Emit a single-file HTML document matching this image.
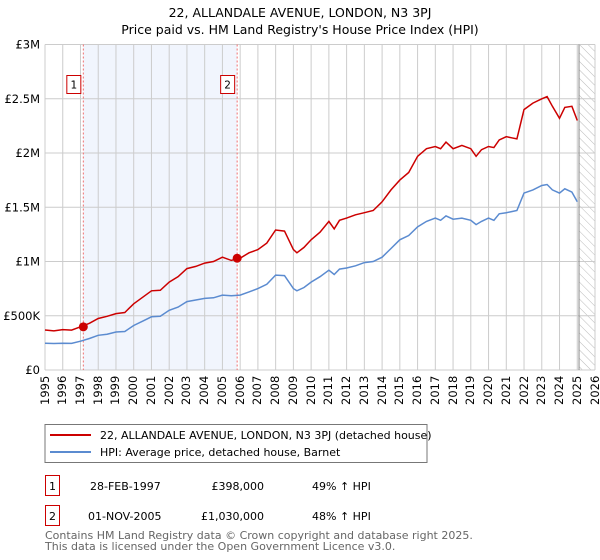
<!DOCTYPE html>
<html><head><meta charset="utf-8"><style>
body{margin:0;background:#fff;font-family:"Liberation Sans","DejaVu Sans",sans-serif;}
svg text{font-family:"DejaVu Sans","Liberation Sans",sans-serif;}
#wrap{position:relative;width:600px;height:560px;}
.xl{position:absolute;top:376px;font:11.5px "DejaVu Sans","Liberation Sans",sans-serif;white-space:nowrap;transform-origin:0 0;transform:rotate(-90deg);line-height:13px;}
</style></head><body>
<div id="wrap">
<svg width="600" height="560" viewBox="0 0 600 560" style="position:absolute;left:0;top:0">
<defs>
<pattern id="hatch" width="6" height="6" patternUnits="userSpaceOnUse" patternTransform="rotate(-45)">
<line x1="0" y1="0" x2="0" y2="6" stroke="#bbb" stroke-width="1"/></pattern>
</defs>
<text x="300" y="17" text-anchor="middle" font-size="12.5">22, ALLANDALE AVENUE, LONDON, N3 3PJ</text>
<text x="300" y="34" text-anchor="middle" font-size="12.5">Price paid vs. HM Land Registry's House Price Index (HPI)</text>
<g id="plot"></g>
<rect x="45" y="424.5" width="382" height="38" fill="#fff" stroke="#777"/>
<line x1="50" y1="435" x2="91" y2="435" stroke="#cc0000" stroke-width="2"/>
<text x="100" y="439" font-size="11">22, ALLANDALE AVENUE, LONDON, N3 3PJ (detached house)</text>
<line x1="50" y1="452" x2="91" y2="452" stroke="#5b8bd0" stroke-width="2"/>
<text x="100" y="456" font-size="11">HPI: Average price, detached house, Barnet</text>
<g>
<rect x="45.5" y="475.5" width="14" height="20" fill="#fff" stroke="#cc0000"/>
<text x="52.5" y="490" text-anchor="middle" font-size="11">1</text>
<text x="90" y="490" font-size="11">28-FEB-1997</text>
<text x="264" y="490" text-anchor="end" font-size="11">£398,000</text>
<text x="312" y="490" font-size="11">49% ↑ HPI</text></g>
<g>
<rect x="45.5" y="505.5" width="14" height="20" fill="#fff" stroke="#cc0000"/>
<text x="52.5" y="520" text-anchor="middle" font-size="11">2</text>
<text x="88" y="520" font-size="11">01-NOV-2005</text>
<text x="264" y="520" text-anchor="end" font-size="11">£1,030,000</text>
<text x="312" y="520" font-size="11">48% ↑ HPI</text></g>
<text x="45" y="539" font-size="11" fill="#666">Contains HM Land Registry data © Crown copyright and database right 2025.</text>
<text x="45" y="550" font-size="11" fill="#666">This data is licensed under the Open Government Licence v3.0.</text>
</svg>
</div>
<script>
const hpiYears=[1995,1995.5,1996,1996.5,1997,1997.5,1998,1998.5,1999,1999.5,2000,2000.5,2001,2001.5,2002,2002.5,2003,2003.5,2004,2004.5,2005,2005.5,2006,2006.5,2007,2007.5,2008,2008.5,2009,2009.2,2009.6,2010,2010.5,2011,2011.3,2011.6,2012,2012.5,2013,2013.5,2014,2014.5,2015,2015.5,2016,2016.5,2017,2017.3,2017.6,2018,2018.5,2019,2019.3,2019.6,2020,2020.3,2020.6,2021,2021.3,2021.6,2022,2022.5,2023,2023.3,2023.6,2024,2024.3,2024.7,2025];
const hpiValues=[0.246,0.244,0.247,0.245,0.265,0.29,0.32,0.33,0.35,0.355,0.41,0.45,0.49,0.495,0.55,0.58,0.63,0.645,0.66,0.665,0.69,0.685,0.69,0.72,0.75,0.79,0.875,0.87,0.75,0.73,0.76,0.81,0.86,0.92,0.88,0.93,0.94,0.96,0.99,1.0,1.04,1.12,1.2,1.24,1.32,1.37,1.40,1.38,1.42,1.39,1.40,1.38,1.34,1.37,1.40,1.38,1.44,1.45,1.46,1.47,1.63,1.66,1.70,1.71,1.66,1.63,1.67,1.64,1.55];
const ppValues=[0.369,0.36,0.372,0.368,0.398,0.43,0.475,0.495,0.52,0.53,0.61,0.67,0.73,0.735,0.81,0.86,0.935,0.955,0.985,1.00,1.04,1.01,1.03,1.08,1.11,1.17,1.29,1.28,1.11,1.08,1.13,1.20,1.27,1.37,1.30,1.38,1.40,1.43,1.45,1.47,1.55,1.66,1.75,1.82,1.97,2.04,2.06,2.04,2.10,2.04,2.07,2.04,1.97,2.03,2.06,2.05,2.12,2.15,2.14,2.13,2.40,2.46,2.50,2.52,2.43,2.32,2.42,2.43,2.30];
const sales=[[1997.16,0.398,"1"],[2005.83,1.03,"2"]];
const yTicks=[0,0.5,1,1.5,2,2.5,3];
const yLabels=["£0","£500K","£1M","£1.5M","£2M","£2.5M","£3M"];
const X0=45,X1=595,Y0=370,Y1=44.5;
const xs=y=>X0+(y-1995)*(X1-X0)/31;
const ys=v=>Y0-v*(Y0-Y1)/3;
const NS="http://www.w3.org/2000/svg";
const g=document.getElementById('plot');
const wrap=document.getElementById('wrap');
function mk(t,a){const e=document.createElementNS(NS,t);for(const k in a)e.setAttribute(k,a[k]);g.appendChild(e);return e;}
let e=mk('rect',{x:xs(1997.16),y:Y1,width:xs(2005.83)-xs(1997.16),height:Y0-Y1,fill:'#eef3fd',opacity:0.8});


e=mk('rect',{x:xs(2025.1),y:Y1,width:X1-xs(2025.1),height:Y0-Y1,fill:'url(#hatch)'});


for(let y=1995;y<=2026;y++){
 e=mk('line',{x1:xs(y),x2:xs(y),y1:Y1,y2:Y0,stroke:'#ccc'});
 
 
 const d=document.createElement('div');
 d.className='xl';
 d.textContent=y;
 
 
 wrap.appendChild(d);
 const w=d.offsetWidth;
 d.style.left=(xs(y)-6.5)+'px';
 d.style.top=(376+w)+'px';
}
yTicks.forEach((v,i)=>{
 e=mk('line',{x1:X0,x2:X1,y1:ys(v),y2:ys(v),stroke:'#ccc'});
 
 
 e=mk('text',{x:40,y:ys(v)+4,'font-size':11.5,'text-anchor':'end'});
 e.textContent=yLabels[i];
 
 
});
e=mk('line',{x1:xs(2025.1),x2:xs(2025.1),y1:Y1,y2:Y0,stroke:'#888'});


sales.forEach(s=>{
 e=mk('line',{x1:xs(s[0]),x2:xs(s[0]),y1:Y1,y2:Y0,stroke:'#f07070','stroke-dasharray':'2,2'});
 
 
 e=mk('rect',{x:xs(s[0])-16.5,y:75.5,width:14,height:18,fill:'#fff',stroke:'#cc0000'});
 
 
 e=mk('text',{x:xs(s[0])-9.5,y:88.5,'font-size':10.5,'text-anchor':'middle'});
 e.textContent=s[2];
 
 
});
const pts=v=>hpiYears.map((y,i)=>xs(y).toFixed(1)+','+ys(v[i]).toFixed(1)).join(' ');
e=mk('polyline',{points:pts(hpiValues),fill:'none',stroke:'#5b8bd0','stroke-width':1.5});


e=mk('polyline',{points:pts(ppValues),fill:'none',stroke:'#cc0000','stroke-width':1.5});


sales.forEach(s=>{
 e=mk('circle',{cx:xs(s[0]),cy:ys(s[1]),r:4.5,fill:'#cc0000'});
 
 
});
</script>
</body></html>
